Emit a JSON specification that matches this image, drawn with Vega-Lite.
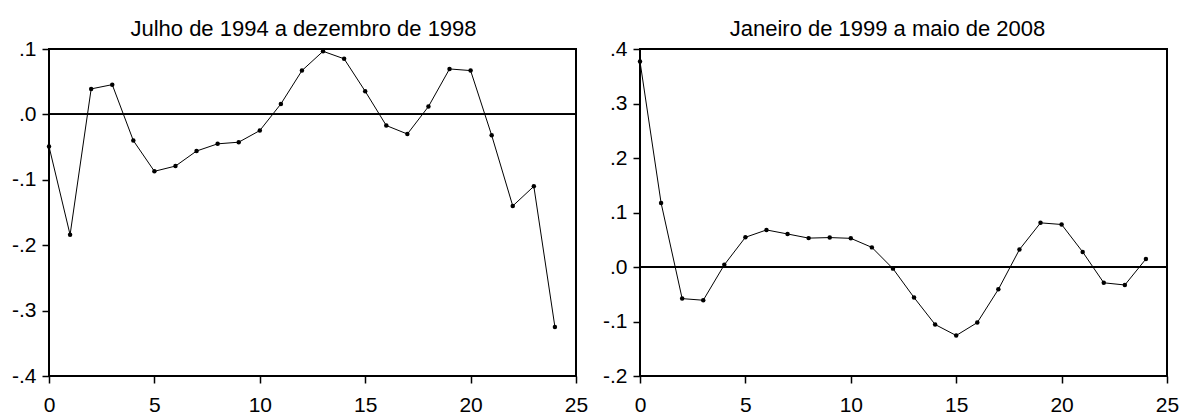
{
  "$schema": "https://vega.github.io/schema/vega-lite/v6.json",
  "background": "white",
  "padding": {"left": 10, "top": 17, "right": 1, "bottom": 0},
  "spacing": 64,
  "bounds": "flush",
  "config": {
    "font": "Liberation Sans",
    "view": {"stroke": "black", "strokeWidth": 2},
    "axis": {
      "grid": false,
      "domain": false,
      "tickColor": "black",
      "tickSize": 7,
      "tickWidth": 1.5,
      "labelColor": "black",
      "labelFont": "Liberation Sans",
      "labelFontSize": 21,
      "labelOverlap": false,
      "labelFlush": false,
      "labelBound": false,
      "title": null
    },
    "title": {"font": "Liberation Sans", "fontSize": 22, "fontWeight": "normal", "color": "black", "baseline": "alphabetic", "offset": -3, "anchor": "middle"}
  },
  "hconcat": [
    {
      "width": 527,
      "height": 327,
      "title": {"text": "Julho de 1994 a dezembro de 1998", "dx": -9},
      "data": {"values": [
        {"lag": 0, "r": -0.049}, {"lag": 1, "r": -0.184}, {"lag": 2, "r": 0.039}, {"lag": 3, "r": 0.0455},
        {"lag": 4, "r": -0.040}, {"lag": 5, "r": -0.087}, {"lag": 6, "r": -0.079}, {"lag": 7, "r": -0.056},
        {"lag": 8, "r": -0.045}, {"lag": 9, "r": -0.0425}, {"lag": 10, "r": -0.0247}, {"lag": 11, "r": 0.016},
        {"lag": 12, "r": 0.067}, {"lag": 13, "r": 0.0965}, {"lag": 14, "r": 0.085}, {"lag": 15, "r": 0.0354},
        {"lag": 16, "r": -0.017}, {"lag": 17, "r": -0.030}, {"lag": 18, "r": 0.012}, {"lag": 19, "r": 0.0695},
        {"lag": 20, "r": 0.067}, {"lag": 21, "r": -0.032}, {"lag": 22, "r": -0.140}, {"lag": 23, "r": -0.110},
        {"lag": 24, "r": -0.325}
      ]},
      "encoding": {
        "x": {"field": "lag", "type": "quantitative", "scale": {"domain": [0, 25], "nice": false, "zero": false},
              "axis": {"values": [0, 5, 10, 15, 20, 25], "labelPadding": 11}},
        "y": {"field": "r", "type": "quantitative", "scale": {"domain": [-0.4, 0.1], "nice": false, "zero": false},
              "axis": {"values": [-0.4, -0.3, -0.2, -0.1, 0, 0.1], "labelPadding": 6,
                       "labelExpr": "replace(replace(format(datum.value, '.1f'), '0.', '.'), '\u2212', '-')"}}
      },
      "layer": [
        {"mark": {"type": "line", "color": "black", "strokeWidth": 1}},
        {"mark": {"type": "point", "filled": true, "color": "black", "size": 20, "opacity": 1}},
        {"mark": {"type": "rule", "color": "black", "strokeWidth": 1}, "encoding": {"x": null, "y": {"datum": 0, "type": "quantitative"}}}
      ]
    },
    {
      "width": 527,
      "height": 327,
      "title": {"text": "Janeiro de 1999 a maio de 2008", "dx": -16},
      "data": {"values": [
        {"lag": 0, "r": 0.377}, {"lag": 1, "r": 0.1176}, {"lag": 2, "r": -0.058}, {"lag": 3, "r": -0.061},
        {"lag": 4, "r": 0.004}, {"lag": 5, "r": 0.0545}, {"lag": 6, "r": 0.068}, {"lag": 7, "r": 0.0606},
        {"lag": 8, "r": 0.053}, {"lag": 9, "r": 0.054}, {"lag": 10, "r": 0.0526}, {"lag": 11, "r": 0.036},
        {"lag": 12, "r": -0.003}, {"lag": 13, "r": -0.056}, {"lag": 14, "r": -0.1055}, {"lag": 15, "r": -0.1257},
        {"lag": 16, "r": -0.102}, {"lag": 17, "r": -0.041}, {"lag": 18, "r": 0.032}, {"lag": 19, "r": 0.081},
        {"lag": 20, "r": 0.078}, {"lag": 21, "r": 0.0276}, {"lag": 22, "r": -0.029}, {"lag": 23, "r": -0.033},
        {"lag": 24, "r": 0.0147}
      ]},
      "encoding": {
        "x": {"field": "lag", "type": "quantitative", "scale": {"domain": [0, 25], "nice": false, "zero": false},
              "axis": {"values": [0, 5, 10, 15, 20, 25], "labelPadding": 11}},
        "y": {"field": "r", "type": "quantitative", "scale": {"domain": [-0.2, 0.4], "nice": false, "zero": false},
              "axis": {"values": [-0.2, -0.1, 0, 0.1, 0.2, 0.3, 0.4], "labelPadding": 6,
                       "labelExpr": "replace(replace(format(datum.value, '.1f'), '0.', '.'), '\u2212', '-')"}}
      },
      "layer": [
        {"mark": {"type": "line", "color": "black", "strokeWidth": 1}},
        {"mark": {"type": "point", "filled": true, "color": "black", "size": 20, "opacity": 1}},
        {"mark": {"type": "rule", "color": "black", "strokeWidth": 1}, "encoding": {"x": null, "y": {"datum": 0, "type": "quantitative"}}}
      ]
    }
  ]
}
